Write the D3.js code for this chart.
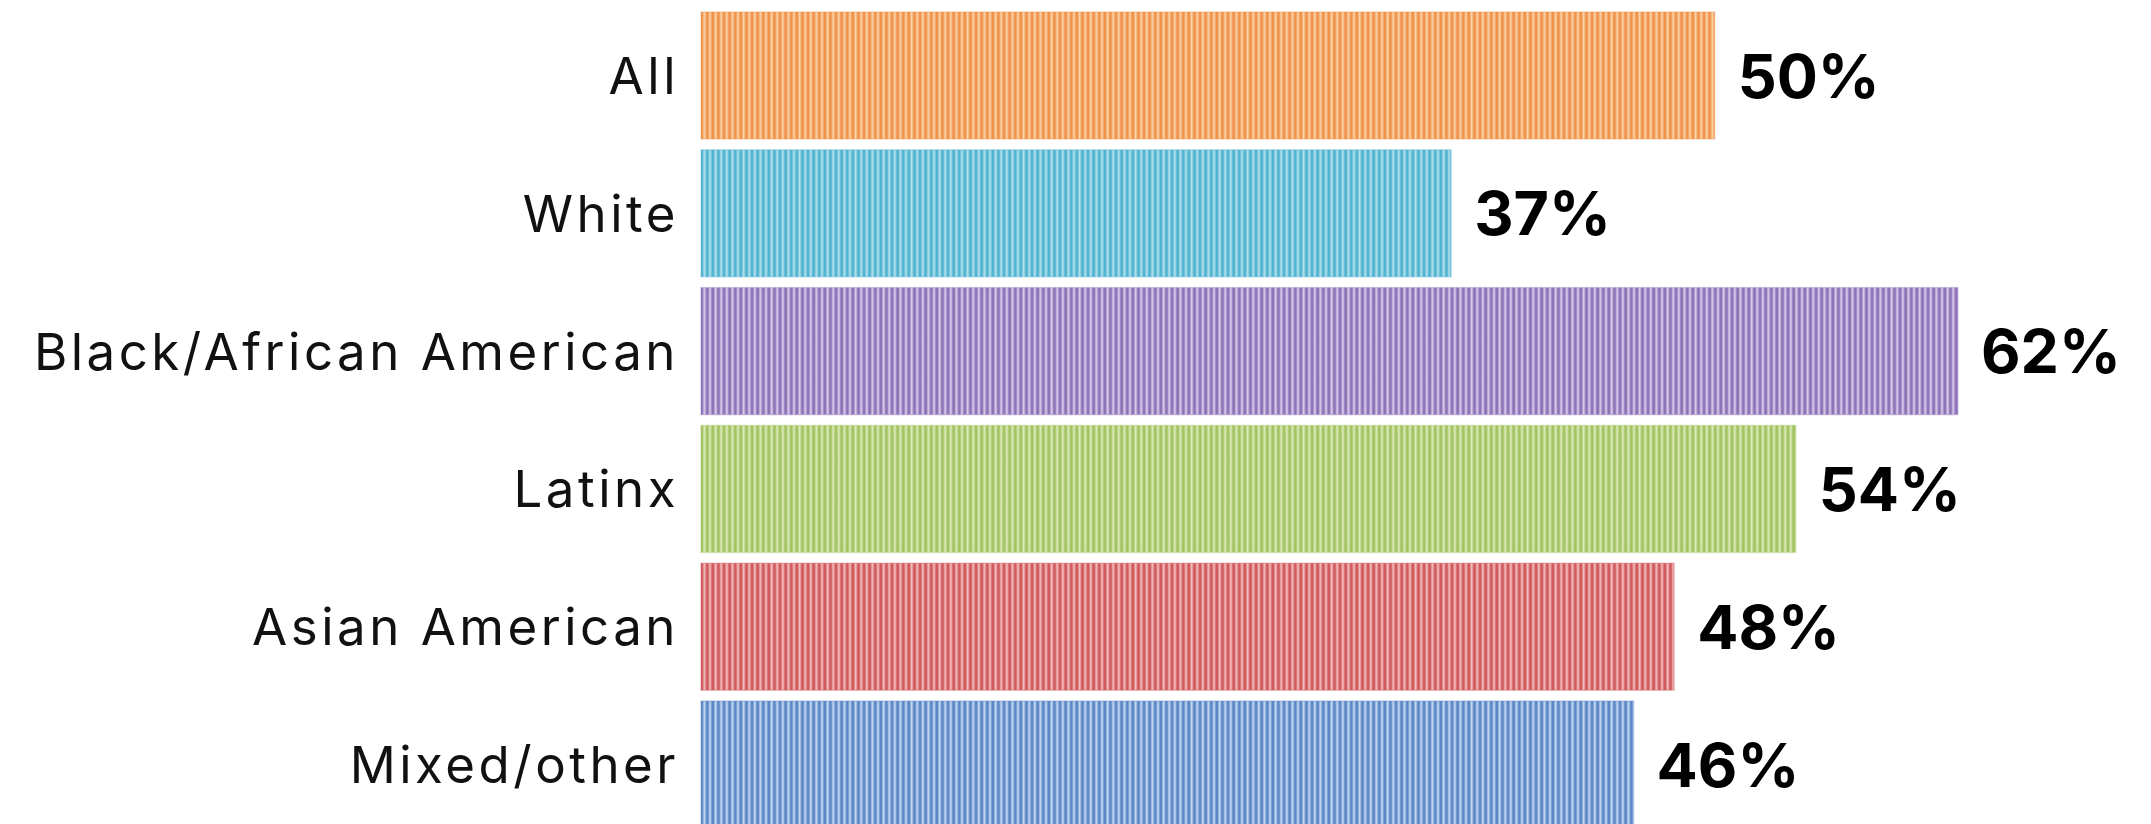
<!DOCTYPE html>
<html>
<head>
<meta charset="utf-8">
<script src="https://cdn.jsdelivr.net/npm/d3@7"></script>
<style>
  html, body { margin: 0; padding: 0; background: #ffffff; }
  svg { display: block; }
</style>
</head>
<body>
<script>
// Share of respondents by race/ethnicity
const categories = ["All", "White", "Black/African American", "Latinx", "Asian American", "Mixed/other"];
const values = [50, 37, 62, 54, 48, 46];
// stripe colours per bar: [dark line, light gap]
const darkColors  = ["#EF9148", "#4DB2CF", "#8A6FB6", "#A0C25F", "#CF5659", "#5884C5"];
const lightColors = ["#FDD9B2", "#BCE5F0", "#E0D5F0", "#E0EFC2", "#F7C6C6", "#CDE1F6"];

const W = 2151, H = 824;
const svg = d3.select("body").append("svg")
  .attr("width", W).attr("height", H);

const x = d3.scaleLinear().domain([0, 62]).range([701, 1958]);
const y = d3.scaleBand().domain(categories)
  .range([6.6, 6.6 + 6 * 137.8])
  .paddingInner(0.078).paddingOuter(0.039);

// vertical pin-stripe fills
const stripe = 5.6;
const defs = svg.append("defs");
categories.forEach((c, i) => {
  const gid = "g" + i;
  const g = defs.append("linearGradient").attr("id", gid)
    .attr("x1", 0).attr("x2", 1).attr("y1", 0).attr("y2", 0);
  g.append("stop").attr("offset", "0%").attr("stop-color", darkColors[i]);
  g.append("stop").attr("offset", "22%").attr("stop-color", darkColors[i]);
  g.append("stop").attr("offset", "62%").attr("stop-color", lightColors[i]);
  g.append("stop").attr("offset", "100%").attr("stop-color", darkColors[i]);
  const p = defs.append("pattern").attr("id", "p" + i)
    .attr("patternUnits", "userSpaceOnUse")
    .attr("x", 701).attr("y", 0)
    .attr("width", stripe).attr("height", 20);
  p.append("rect").attr("width", stripe).attr("height", 20).attr("fill", `url(#${gid})`);
});

svg.append("g").selectAll("rect")
  .data(values)
  .join("rect")
  .attr("x", x(0))
  .attr("y", (d, i) => y(categories[i]))
  .attr("width", d => x(d) - x(0))
  .attr("height", y.bandwidth())
  .attr("fill", (d, i) => `url(#p${i})`)
  .attr("stroke", (d, i) => darkColors[i])
  .attr("stroke-opacity", 0.3)
  .attr("stroke-width", 1.5);

// category labels
svg.append("g").selectAll("text")
  .data(categories)
  .join("text")
  .attr("x", x(0) - 22)
  .attr("y", d => y(d) + y.bandwidth() / 2)
  .attr("text-anchor", "end")
  .attr("dominant-baseline", "central")
  .attr("font-family", "Inter, 'Open Sans', sans-serif")
  .attr("font-size", 51)
  .attr("font-weight", 400)
  .attr("letter-spacing", 3.5)
  .attr("fill", "#111")
  .text(d => d);

// value labels
svg.append("g").selectAll("text")
  .data(values)
  .join("text")
  .attr("x", d => x(d) + 23)
  .attr("y", (d, i) => y(categories[i]) + y.bandwidth() / 2)
  .attr("dominant-baseline", "central")
  .attr("font-family", "Inter, 'Open Sans', sans-serif")
  .attr("font-size", 61)
  .attr("font-weight", 700)
  .attr("fill", "#000")
  .text(d => d + "%");
</script>
</body>
</html>
